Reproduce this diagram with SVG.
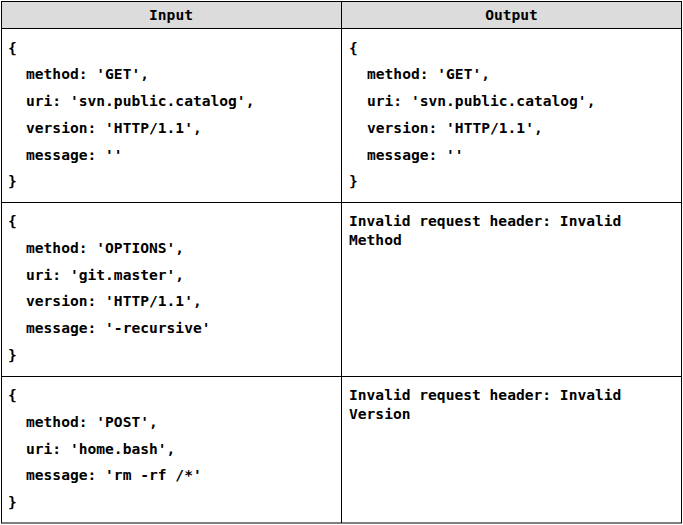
<svg xmlns="http://www.w3.org/2000/svg" width="683" height="525" viewBox="0 0 683 525">
<style>
text{font-family:"DejaVu Sans Mono","Liberation Mono",monospace;font-size:14.6px;font-weight:bold;fill:#000}
.h{text-anchor:middle}
.ln{stroke:#000;stroke-width:1;fill:none}
</style>
<rect x="0" y="0" width="683" height="525" fill="#fff"/>
<g id="header">
<rect x="1.5" y="1.5" width="680" height="27" fill="#dcdcdc"/>
<text class="h" x="171" y="20">Input</text>
<text class="h" x="511.5" y="20">Output</text>
</g>
<g id="grid">
<rect class="ln" x="1.5" y="1.5" width="680" height="521.5"/>
<line class="ln" x1="341.5" y1="1.5" x2="341.5" y2="523"/>
<line class="ln" x1="1.5" y1="28.5" x2="681.5" y2="28.5"/>
<line class="ln" x1="1.5" y1="202.5" x2="681.5" y2="202.5"/>
<line class="ln" x1="1.5" y1="376.5" x2="681.5" y2="376.5"/>
</g>
<g id="row1-input">
<text x="8" y="52.5">{</text>
<text x="26" y="79.2">method: 'GET',</text>
<text x="26" y="106">uri: 'svn.public.catalog',</text>
<text x="26" y="132.7">version: 'HTTP/1.1',</text>
<text x="26" y="159.5">message: ''</text>
<text x="8" y="186.2">}</text>
</g>
<g id="row1-output">
<text x="349" y="52.5">{</text>
<text x="367" y="79.2">method: 'GET',</text>
<text x="367" y="106">uri: 'svn.public.catalog',</text>
<text x="367" y="132.7">version: 'HTTP/1.1',</text>
<text x="367" y="159.5">message: ''</text>
<text x="349" y="186.2">}</text>
</g>
<g id="row2-input">
<text x="8" y="226">{</text>
<text x="26" y="252.7">method: 'OPTIONS',</text>
<text x="26" y="279.5">uri: 'git.master',</text>
<text x="26" y="306.2">version: 'HTTP/1.1',</text>
<text x="26" y="333">message: '-recursive'</text>
<text x="8" y="359.7">}</text>
</g>
<g id="row2-output">
<text x="349" y="226">Invalid request header: Invalid</text>
<text x="349" y="245">Method</text>
</g>
<g id="row3-input">
<text x="8" y="400">{</text>
<text x="26" y="426.7">method: 'POST',</text>
<text x="26" y="453.5">uri: 'home.bash',</text>
<text x="26" y="480.2">message: 'rm -rf /*'</text>
<text x="8" y="507">}</text>
</g>
<g id="row3-output">
<text x="349" y="400">Invalid request header: Invalid</text>
<text x="349" y="419">Version</text>
</g>
</svg>
